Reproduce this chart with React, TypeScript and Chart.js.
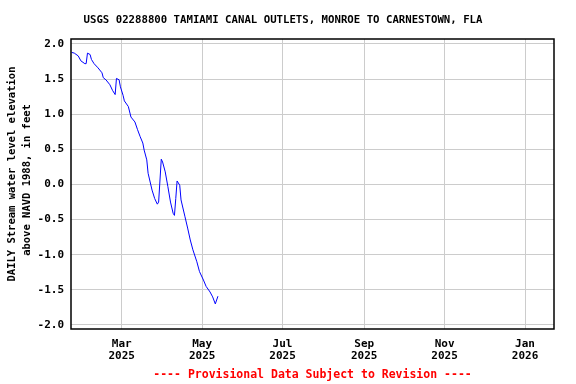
import React, { useEffect, useRef } from "react";
import { Chart, registerables } from "chart.js";

Chart.register(...registerables);

const TITLE = "USGS 02288800 TAMIAMI CANAL OUTLETS, MONROE TO CARNESTOWN, FLA";
const Y_TITLE = ["DAILY Stream water level elevation", "above NAVD 1988, in feet"];
const FOOTER = "---- Provisional Data Subject to Revision ----";

const dates = [
  "2025-01-22", "2025-01-24", "2025-01-27", "2025-01-29", "2025-02-01", "2025-02-02",
  "2025-02-03", "2025-02-05", "2025-02-06", "2025-02-08", "2025-02-11", "2025-02-14",
  "2025-02-15", "2025-02-17", "2025-02-20", "2025-02-22", "2025-02-24", "2025-02-25",
  "2025-02-27", "2025-02-28", "2025-03-02", "2025-03-03", "2025-03-06", "2025-03-08",
  "2025-03-11", "2025-03-13", "2025-03-15", "2025-03-17", "2025-03-18", "2025-03-20",
  "2025-03-21", "2025-03-24", "2025-03-26", "2025-03-28", "2025-03-29", "2025-03-31",
  "2025-04-01", "2025-04-03", "2025-04-05", "2025-04-07", "2025-04-09", "2025-04-10",
  "2025-04-11", "2025-04-12", "2025-04-14", "2025-04-15", "2025-04-18", "2025-04-20",
  "2025-04-22", "2025-04-24", "2025-04-27", "2025-04-29", "2025-05-02", "2025-05-04",
  "2025-05-07", "2025-05-09", "2025-05-11", "2025-05-13",
];

const levels = [
  1.88, 1.87, 1.83, 1.76, 1.72, 1.72,
  1.87, 1.85, 1.78, 1.72, 1.66, 1.59,
  1.52, 1.49, 1.42, 1.34, 1.28, 1.51,
  1.49, 1.39, 1.27, 1.19, 1.11, 0.96,
  0.89, 0.78, 0.68, 0.59, 0.49, 0.35,
  0.16, -0.08, -0.2, -0.28, -0.25, 0.36,
  0.32, 0.18, -0.03, -0.25, -0.41, -0.44,
  -0.2, 0.05, -0.01, -0.22, -0.46, -0.62,
  -0.79, -0.93, -1.1, -1.24, -1.36, -1.45,
  -1.53, -1.6, -1.7, -1.59,
];

const xTickDates = ["2025-03-01", "2025-05-01", "2025-07-01", "2025-09-01", "2025-11-01", "2026-01-01"];
const xTickLabels = [["Mar", "2025"], ["May", "2025"], ["Jul", "2025"], ["Sep", "2025"], ["Nov", "2025"], ["Jan", "2026"]];
const yTicks = [-2.0, -1.5, -1.0, -0.5, 0.0, 0.5, 1.0, 1.5, 2.0];

const X_START = "2025-01-21";
const X_END = "2026-01-23";

const BASE = Date.UTC(2025, 0, 1);
function dayOf(s: string): number {
  const [y, m, d] = s.split("-").map(Number);
  return (Date.UTC(y, m - 1, d) - BASE) / 86400000;
}

const FONT = "'DejaVu Sans Mono', monospace";

export default function App() {
  const ref = useRef<HTMLCanvasElement | null>(null);

  useEffect(() => {
    if (!ref.current) return;
    const tickDays = xTickDates.map(dayOf);
    const points = dates.map((d, i) => ({ x: dayOf(d), y: levels[i] }));

    const decor = {
      id: "decor",
      afterDraw(chart: any) {
        const { ctx, chartArea } = chart;
        ctx.save();
        ctx.strokeStyle = "#000";
        ctx.lineWidth = 1.5;
        ctx.strokeRect(chartArea.left, chartArea.top, chartArea.right - chartArea.left, chartArea.bottom - chartArea.top);
        ctx.fillStyle = "#000";
        ctx.font = `bold 10.7px ${FONT}`;
        ctx.textAlign = "center";
        ctx.textBaseline = "middle";
        ctx.fillText(TITLE, 283, 20);
        ctx.font = `bold 10.5px ${FONT}`;
        ctx.save();
        ctx.translate(12, 174);
        ctx.rotate(-Math.PI / 2);
        ctx.fillText(Y_TITLE[0], 0, 0);
        ctx.restore();
        ctx.save();
        ctx.translate(27, 180);
        ctx.rotate(-Math.PI / 2);
        ctx.fillText(Y_TITLE[1], 0, 0);
        ctx.restore();
        ctx.fillStyle = "#ff0000";
        ctx.font = `bold 11.5px ${FONT}`;
        ctx.fillText(FOOTER, (chartArea.left + chartArea.right) / 2, 375);
        ctx.restore();
      },
    };

    const chart = new Chart(ref.current, {
      type: "line",
      data: {
        datasets: [
          {
            data: points,
            borderColor: "#0000ff",
            borderWidth: 1,
            pointRadius: 0,
            fill: false,
            tension: 0,
          },
        ],
      },
      options: {
        animation: false,
        responsive: false,
        maintainAspectRatio: false,
        layout: { padding: { left: 0, right: 22, top: 39, bottom: 15 } },
        plugins: { legend: { display: false }, title: { display: false }, tooltip: { enabled: false } },
        scales: {
          x: {
            type: "linear",
            min: dayOf(X_START) + 0.5,
            max: dayOf(X_END),
            afterBuildTicks: (s: any) => {
              s.ticks = tickDays.map((v) => ({ value: v }));
            },
            afterFit: (s: any) => {
              s.height = 40;
            },
            grid: { color: "#cccccc", lineWidth: 1, drawTicks: false },
            border: { display: false },
            ticks: {
              padding: 9,
              color: "#000",
              maxRotation: 0,
              autoSkip: false,
              font: { family: FONT, size: 11, weight: "bold", lineHeight: 1.1 },
              callback: (v: any) => {
                const i = tickDays.indexOf(Number(v));
                return i >= 0 ? xTickLabels[i] : "";
              },
            },
          },
          y: {
            type: "linear",
            min: -2.057,
            max: 2.071,
            afterBuildTicks: (s: any) => {
              s.ticks = yTicks.map((v) => ({ value: v }));
            },
            afterFit: (s: any) => {
              s.width = 71;
            },
            grid: { color: "#cccccc", lineWidth: 1, drawTicks: false },
            border: { display: false },
            ticks: {
              padding: 7,
              color: "#000",
              font: { family: FONT, size: 11, weight: "bold" },
              callback: (v: any) => Number(v).toFixed(1),
            },
          },
        },
      },
      plugins: [decor],
    });
    return () => chart.destroy();
  }, []);

  return (
    <div style={{ position: "fixed", left: 0, top: 0, width: 576, height: 384, background: "#fff" }}>
      <canvas ref={ref} width={576} height={384} style={{ width: 576, height: 384 }} />
    </div>
  );
}
